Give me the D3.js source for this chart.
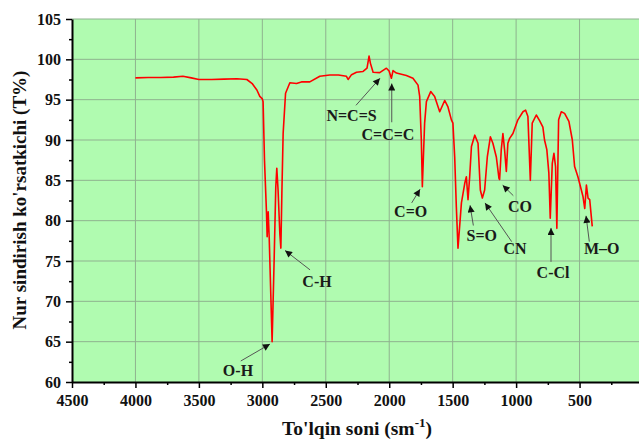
<!DOCTYPE html>
<html lang="en">
<head>
  <meta charset="utf-8">
  <title>IR spectrum</title>
  <style>
    html, body { margin: 0; padding: 0; background: #ffffff; }
    svg { display: block; }
    .tick text { font-family: "Liberation Serif", "Times New Roman", serif; font-weight: bold; }
  </style>
</head>
<body>
<div id="chart"></div>
<script src="https://cdn.jsdelivr.net/npm/d3@7"></script>
<script>

  ////////////////////////////////////////////////// DATA

  // wavenumber (sm^-1)
  var waveNumbers = [4000, 3900, 3800, 3700, 3626, 3560, 3500, 3400, 3300, 3200, 3122, 3080, 3043, 3020, 3000, 2994, 2983,
                     2967, 2962, 2954, 2946, 2923, 2907, 2894, 2886, 2876, 2862, 2854, 2846, 2836, 2817, 2783, 2731,
                     2692, 2626, 2547, 2468, 2400, 2337, 2324, 2297, 2258, 2206, 2175, 2159, 2148, 2127, 2075, 2022,
                     2001, 1983, 1970, 1943, 1865, 1813, 1773, 1760, 1747, 1739, 1721, 1707, 1673, 1642, 1602, 1563,
                     1537, 1510, 1498, 1484, 1471, 1458, 1431, 1405, 1392, 1379, 1366, 1352, 1326, 1300, 1282, 1266,
                     1248, 1227, 1203, 1183, 1156, 1135, 1130, 1117, 1104, 1091, 1077, 1065, 1051, 1025, 986, 946,
                     925, 907, 888, 873, 841, 815, 789, 776, 758, 742, 731, 715, 702, 689, 679, 665, 644, 618, 584,
                     557, 539, 513, 486, 473, 459, 446, 433, 420, 400];

  // transmittance (T%)
  var transmittance = [97.7, 97.75, 97.75, 97.8, 97.9, 97.7, 97.5, 97.5, 97.55, 97.6, 97.5, 97.0, 96.2, 95.4, 95.1, 94.75, 87.5,
                       80.9, 78.0, 81.1, 78.0, 65.0, 75.1, 84.2, 86.5, 83.8, 78.4, 76.6, 83.4, 90.8, 95.8, 97.1, 97.0,
                       97.2, 97.2, 97.9, 98.05, 98.05, 97.9, 97.5, 98.1, 98.4, 98.5, 98.9, 100.4, 99.5, 98.4, 98.35, 98.9,
                       98.55, 97.65, 98.6, 98.3, 98.0, 97.65, 96.8, 95.4, 90.0, 84.2, 92.1, 94.75, 96.0, 95.4, 93.5, 94.9,
                       94.1, 92.5, 92.1, 87.9, 81.7, 76.6, 82.2, 84.6, 85.45, 82.6, 85.45, 89.2, 90.6, 89.6, 83.8, 82.8,
                       83.8, 87.9, 90.4, 89.6, 87.9, 85.25, 85.1, 88.8, 90.8, 88.8, 86.1, 89.6, 90.2, 90.8, 92.5, 93.5,
                       93.7, 92.9, 85.0, 92.1, 93.1, 92.4, 91.6, 90.0, 88.8, 85.9, 80.3, 87.1, 88.35, 86.7, 79.05, 92.5, 93.5, 93.3, 92.3,
                       90.0, 86.7, 85.45, 83.8, 83.0, 81.5, 84.4, 82.8, 82.6, 79.3];

  // tick labels
  var xTicks = [4500, 4000, 3500, 3000, 2500, 2000, 1500, 1000, 500];
  var yTicks = [60, 65, 70, 75, 80, 85, 90, 95, 100, 105];

  // peak annotations: label, arrow tip [wavenumber, T], label centre, arrow tail
  var peakLabels = ["O-H", "C-H", "N=C=S", "C=C=C", "C=O", "S=O", "CN", "CO", "C-Cl", "M\u2013O"];
  var peakTips   = [[2940, 64.7], [2821, 76.3], [2073, 97.65], [1980, 97.0], [1757, 83.9], [1363, 81.9], [1245, 82.2], [1106, 84.4], [725, 79.1], [449, 80.6]];
  var peakTexts  = [[3192, 61.4], [2569, 72.5], [2297, 93.1], [2010, 90.7], [1831, 81.2], [1271, 78.2], [1009, 76.6], [969, 81.8], [709, 73.6], [325, 76.6]];
  var arrowTails = [[3170, 62.6], [2624, 73.9], [2262, 94.3], [1980, 92.2], [1823, 82.2], [1337, 79.4], [1035, 77.4], [1022, 83.1], [725, 74.9], [423, 77.4]];

  ////////////////////////////////////////////////// SETUP

  var width = 639, height = 441;
  var margin = {top: 19, right: -4, bottom: 59, left: 72};

  var svg = d3.select("#chart").append("svg")
              .attr("width", width)
              .attr("height", height);

  var x = d3.scaleLinear().domain([4500, 0]).range([margin.left, width - margin.right]);
  var y = d3.scaleLinear().domain([60, 105]).range([height - margin.bottom, margin.top]);

  var serif = "'Liberation Serif', 'Times New Roman', serif";

  // plot background
  svg.append("rect")
     .attr("x", margin.left)
     .attr("y", margin.top)
     .attr("width", x(0) - margin.left)
     .attr("height", y(60) - margin.top)
     .attr("fill", "#b0fbb0");

  // grid
  var grid = svg.append("g").attr("stroke", "#8fb28f").attr("stroke-width", 1);
  grid.selectAll(".vg").data(xTicks.slice(1)).enter().append("line")
      .attr("x1", function(d){ return x(d); }).attr("x2", function(d){ return x(d); })
      .attr("y1", y(60)).attr("y2", y(105));
  grid.selectAll(".hg").data(yTicks.slice(1)).enter().append("line")
      .attr("x1", x(4500)).attr("x2", x(0))
      .attr("y1", function(d){ return y(d); }).attr("y2", function(d){ return y(d); });

  // spectrum
  var points = waveNumbers.map(function(w, i){ return [w, transmittance[i]]; });
  svg.append("path")
     .datum(points)
     .attr("fill", "none")
     .attr("stroke", "#ff0000")
     .attr("stroke-width", 1.6)
     .attr("stroke-linejoin", "round")
     .attr("d", d3.line().x(function(d){ return x(d[0]); }).y(function(d){ return y(d[1]); }));

  // minor ticks
  var minorX = d3.range(4250, 0, -500);
  var minorY = d3.range(62.5, 105, 5);
  svg.append("g").attr("transform", "translate(0," + y(60) + ")")
     .call(d3.axisBottom(x).tickValues(minorX).tickSize(3).tickFormat(""))
     .call(function(g){ g.select(".domain").remove(); })
     .selectAll("line").attr("stroke-width", 1.5);
  svg.append("g").attr("transform", "translate(" + x(4500) + ",0)")
     .call(d3.axisLeft(y).tickValues(minorY).tickSize(3).tickFormat(""))
     .call(function(g){ g.select(".domain").remove(); })
     .selectAll("line").attr("stroke-width", 1.5);

  // axes
  var xAxis = svg.append("g").attr("transform", "translate(0," + y(60) + ")")
                 .call(d3.axisBottom(x).tickValues(xTicks).tickSize(6).tickSizeOuter(0).tickPadding(7).tickFormat(d3.format("d")));
  xAxis.select(".domain").attr("stroke-width", 2);
  xAxis.selectAll("line").attr("stroke-width", 1.5);
  xAxis.selectAll("text").attr("font-size", 16).attr("fill", "#111");

  var yAxis = svg.append("g").attr("transform", "translate(" + x(4500) + ",0)")
                 .call(d3.axisLeft(y).tickValues(yTicks).tickSize(6).tickSizeOuter(0).tickPadding(5));
  yAxis.select(".domain").attr("stroke-width", 2);
  yAxis.selectAll("line").attr("stroke-width", 1.5);
  yAxis.selectAll("text").attr("font-size", 16).attr("fill", "#111");

  // axis titles
  var xTitle = svg.append("text")
     .attr("x", 357).attr("y", 435)
     .attr("text-anchor", "middle")
     .attr("font-family", serif).attr("font-weight", "bold").attr("font-size", 19.5)
     .attr("fill", "#111")
     .text("To'lqin soni (sm");
  xTitle.append("tspan").attr("dy", -8).attr("font-size", 13).text("-1");
  xTitle.append("tspan").attr("dy", 8).text(")");

  svg.append("text")
     .attr("transform", "translate(25.5,200) rotate(-90)")
     .attr("text-anchor", "middle")
     .attr("font-family", serif).attr("font-weight", "bold").attr("font-size", 19)
     .attr("fill", "#111")
     .text("Nur sindirish ko'rsatkichi (T%)");

  // annotations
  svg.append("defs").append("marker")
     .attr("id", "head")
     .attr("viewBox", "0 0 10 10")
     .attr("refX", 10).attr("refY", 5)
     .attr("markerWidth", 9).attr("markerHeight", 7)
     .attr("markerUnits", "userSpaceOnUse")
     .attr("orient", "auto")
     .append("path").attr("d", "M0,0L10,5L0,10Z").attr("fill", "#111");

  var notes = svg.append("g");
  peakLabels.forEach(function(label, i){
    notes.append("line")
         .attr("x1", x(arrowTails[i][0])).attr("y1", y(arrowTails[i][1]))
         .attr("x2", x(peakTips[i][0])).attr("y2", y(peakTips[i][1]))
         .attr("stroke", "#555").attr("stroke-width", 1)
         .attr("marker-end", "url(#head)");
    notes.append("text")
         .attr("x", x(peakTexts[i][0])).attr("y", y(peakTexts[i][1]))
         .attr("text-anchor", "middle")
         .attr("dy", "0.35em")
         .attr("font-family", serif).attr("font-weight", "bold").attr("font-size", 16)
         .attr("fill", "#1a1a1a")
         .text(label);
  });

</script>
</body>
</html>
